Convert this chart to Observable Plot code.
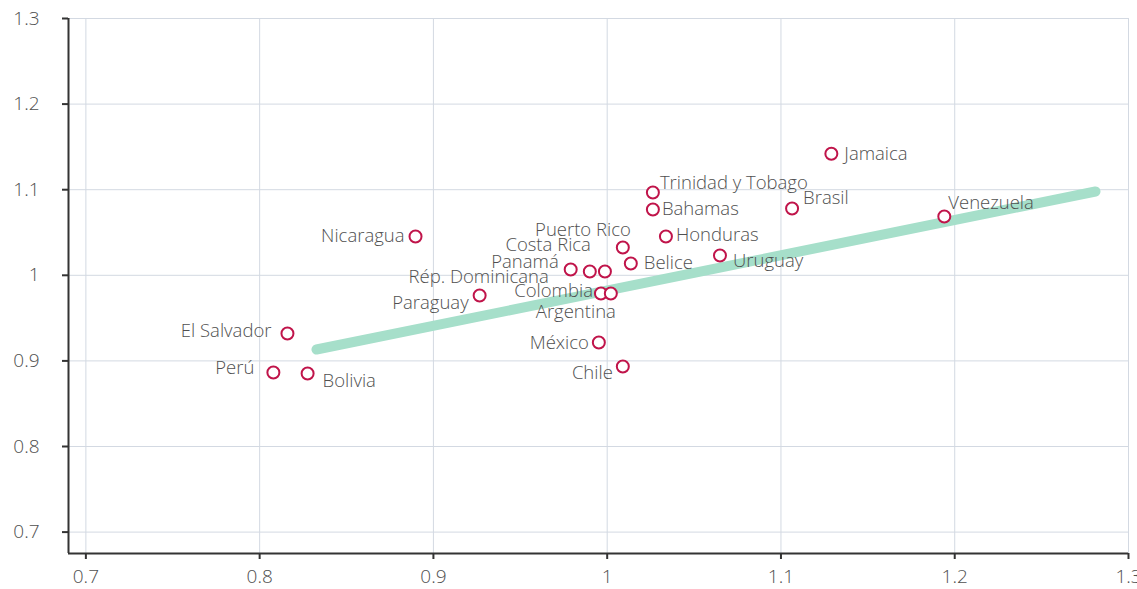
<!DOCTYPE html>
<html>
<head>
<meta charset="utf-8">
<script src="https://cdn.jsdelivr.net/npm/d3@7"></script>
<script src="https://cdn.jsdelivr.net/npm/@observablehq/plot@0.6"></script>
<style>
  html, body { margin: 0; padding: 0; background: #fff; }
  #chart { width: 1137px; height: 589px; overflow: hidden; }
  svg { font-family: "Open Sans", sans-serif; }
</style>
</head>
<body>
<div id="chart"></div>
<script>
// ---- data ----
const countries = ["Jamaica","Trinidad y Tobago","Bahamas","Brasil","Venezuela","Nicaragua","Puerto Rico","Honduras","Uruguay","Belice","Panamá","Rép. Dominicana","Costa Rica","Colombia","Argentina","Paraguay","El Salvador","México","Chile","Perú","Bolivia"];
const xValues = [1.129,1.0263,1.0263,1.1064,1.194,0.8897,1.009,1.0338,1.0649,1.0136,0.979,0.99,0.9987,0.9964,1.0021,0.9266,0.816,0.9952,1.009,0.8079,0.8276];
const yValues = [1.142,1.0967,1.0769,1.078,1.0687,1.0453,1.0325,1.0453,1.0231,1.0138,1.0068,1.0044,1.0044,0.9787,0.9787,0.9764,0.932,0.9215,0.8935,0.8864,0.8853];
const trendX = [0.8327, 1.281];
const trendY = [0.9133, 1.0979];
const xTicks = [0.7,0.8,0.9,1,1.1,1.2,1.3];
const yTicks = [0.7,0.8,0.9,1,1.1,1.2,1.3];

// ---- label placement (style) ----
const placement = {
  "Jamaica": ["start", 13, 0],
  "Trinidad y Tobago": ["start", 7, -9],
  "Bahamas": ["start", 9, 0],
  "Brasil": ["start", 11, -10],
  "Venezuela": ["start", 4, -13],
  "Nicaragua": ["end", -11, 0],
  "Puerto Rico": ["end", 8, -17],
  "Honduras": ["start", 10, -1],
  "Uruguay": ["start", 13, 6],
  "Belice": ["start", 13, 0],
  "Panamá": ["end", -12, -7],
  "Rép. Dominicana": ["end", -41, 6],
  "Costa Rica": ["end", -14, -26],
  "Colombia": ["end", -8, -2],
  "Argentina": ["middle", -35, 19],
  "Paraguay": ["end", -11, 8],
  "El Salvador": ["end", -16, -2],
  "México": ["end", -10, 1],
  "Chile": ["end", -10, 7],
  "Perú": ["end", -19, -4],
  "Bolivia": ["start", 15, 8]
};

const points = countries.map((name, i) => ({name, x: xValues[i], y: yValues[i]}));
const trend = trendX.map((x, i) => ({x, y: trendY[i]}));
const fmt = d => String(+d.toFixed(1));

const textColor = "#505050";
const labelMarks = points.map(p => {
  const [anchor, dx, dy] = placement[p.name];
  return Plot.text([p], {x: "x", y: "y", text: "name", textAnchor: anchor, dx, dy,
    fill: textColor, fontSize: 18.5, fontWeight: 300});
});

const chart = Plot.plot({
  width: 1137,
  height: 589,
  marginLeft: 68,
  marginRight: 9,
  marginTop: 18,
  marginBottom: 36,
  style: {fontFamily: "'Open Sans', sans-serif", fontSize: "19px", color: textColor, background: "#fff", overflow: "visible"},
  x: {domain: [0.69, 1.3]},
  y: {domain: [0.675, 1.3]},
  marks: [
    Plot.gridX(xTicks, {stroke: "#d3d9e2", strokeOpacity: 1, strokeWidth: 1}),
    Plot.gridY(yTicks, {stroke: "#d3d9e2", strokeOpacity: 1, strokeWidth: 1}),
    Plot.axisX(xTicks, {tickSize: 6, tickPadding: 10, tickFormat: fmt, label: null, stroke: "#333", strokeWidth: 2, fill: textColor, fontSize: 19, fontWeight: 300}),
    Plot.axisY(yTicks, {tickSize: 6, tickPadding: 23, tickFormat: fmt, label: null, stroke: "#333", strokeWidth: 2, fill: textColor, fontSize: 19, fontWeight: 300}),
    Plot.ruleX([0.69], {stroke: "#333", strokeWidth: 2}),
    Plot.ruleY([0.675], {stroke: "#333", strokeWidth: 2}),
    Plot.line(trend, {x: "x", y: "y", stroke: "#a6dfca", strokeWidth: 10, strokeLinecap: "round"}),
    Plot.dot(points, {x: "x", y: "y", r: 6, stroke: "#c0144a", strokeWidth: 2, fill: "#fff"}),
    ...labelMarks
  ]
});
document.getElementById("chart").appendChild(chart);
</script>
</body>
</html>
